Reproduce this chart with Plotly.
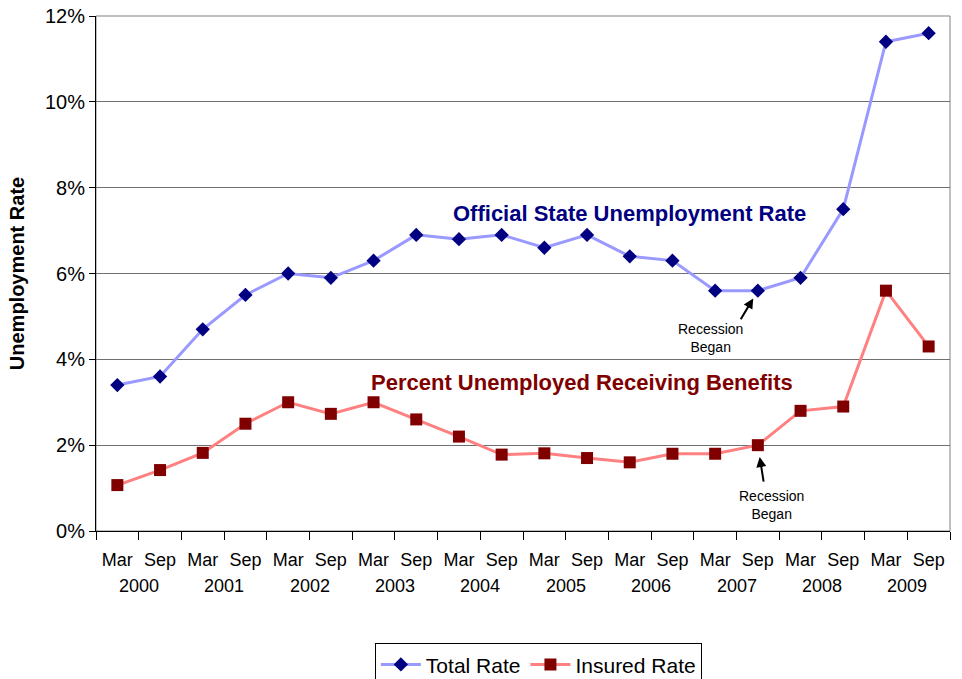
import plotly.graph_objects as go

# Semiannual observations, March 2000 through September 2009
months = ["Mar", "Sep"] * 10
years = ["2000", "2001", "2002", "2003", "2004", "2005", "2006", "2007", "2008", "2009"]

total_rate = [3.4, 3.6, 4.7, 5.5, 6.0, 5.9, 6.3, 6.9, 6.8, 6.9,
              6.6, 6.9, 6.4, 6.3, 5.6, 5.6, 5.9, 7.5, 11.4, 11.6]
insured_rate = [1.07, 1.42, 1.82, 2.5, 3.0, 2.73, 3.0, 2.6, 2.2, 1.78,
                1.81, 1.7, 1.6, 1.8, 1.8, 2.0, 2.8, 2.9, 5.6, 4.3]

y_ticks = [0, 2, 4, 6, 8, 10, 12]

FONT = "Arial, Liberation Sans, sans-serif"
x = list(range(len(months)))

fig = go.Figure()
fig.add_trace(go.Scatter(
    x=x, y=total_rate, name="Total Rate", mode="lines+markers",
    line=dict(color="#9999FF", width=3),
    marker=dict(symbol="diamond", size=11, color="#000080"),
))
fig.add_trace(go.Scatter(
    x=x, y=insured_rate, name="Insured Rate", mode="lines+markers",
    line=dict(color="#FF8080", width=3),
    marker=dict(symbol="square", size=12, color="#800000"),
))

annotations = []
# Year labels centred under each Mar/Sep pair
for i, yr in enumerate(years):
    annotations.append(dict(
        x=2 * i + 0.5, y=-0.107, xref="x", yref="paper", text=yr,
        showarrow=False, font=dict(family=FONT, size=18, color="black"),
        yanchor="middle",
    ))

# Series captions
annotations.append(dict(
    x=12.0, y=7.39, xref="x", yref="y", text="<b>Official State Unemployment Rate</b>",
    showarrow=False, font=dict(family=FONT, size=22, color="#000080"),
))
annotations.append(dict(
    x=10.87, y=3.45, xref="x", yref="y", text="<b>Percent Unemployed Receiving Benefits</b>",
    showarrow=False, font=dict(family=FONT, size=22, color="#800000"),
))

# Recession markers: arrows to Sep 2007 plus their captions
rec_idx = 15
annotations.append(dict(
    x=rec_idx, y=total_rate[rec_idx], xref="x", yref="y", text="",
    showarrow=True, ax=-18, ay=30, arrowhead=2, arrowsize=1, arrowwidth=2,
    arrowcolor="black", standoff=9,
))
annotations.append(dict(
    x=13.9, y=4.5, xref="x", yref="y", text="Recession<br>Began",
    showarrow=False, font=dict(family=FONT, size=14, color="black"),
))
annotations.append(dict(
    x=rec_idx, y=insured_rate[rec_idx], xref="x", yref="y", text="",
    showarrow=True, ax=6, ay=38, arrowhead=2, arrowsize=1, arrowwidth=2,
    arrowcolor="black", standoff=12,
))
annotations.append(dict(
    x=15.31, y=0.61, xref="x", yref="y", text="Recession<br>Began",
    showarrow=False, font=dict(family=FONT, size=14, color="black"),
))

fig.update_layout(
    width=962, height=679,
    margin=dict(l=96, r=12, t=16, b=148, autoexpand=False),
    paper_bgcolor="white", plot_bgcolor="white",
    font=dict(family=FONT, size=18, color="black"),
    showlegend=True,
    legend=dict(
        orientation="h", x=0.518, xanchor="center", y=-0.218, yanchor="top",
        bordercolor="black", borderwidth=1, font=dict(family=FONT, size=21),
        itemwidth=40, tracegroupgap=0,
    ),
    annotations=annotations,
    shapes=[dict(type="rect", xref="paper", yref="paper", x0=0, x1=1, y0=0, y1=1,
                 line=dict(color="#808080", width=1), layer="below")],
)

fig.update_xaxes(
    range=[-0.5, len(months) - 0.5],
    tickvals=x, ticktext=months, ticks="",
    tickfont=dict(family=FONT, size=18, color="black"),
    showgrid=False, zeroline=False,
    showline=True, linecolor="black", linewidth=1,
    minor=dict(ticks="outside", tick0=-0.5, dtick=1, ticklen=8,
               tickcolor="black", tickwidth=1, showgrid=False),
    ticklabelstandoff=12,
)
fig.update_yaxes(
    range=[0, 12], tickvals=y_ticks, ticktext=[f"{v}%" for v in y_ticks],
    ticks="outside", ticklen=6, tickcolor="black",
    tickfont=dict(family=FONT, size=20, color="black"),
    showgrid=True, gridcolor="#707070", gridwidth=1, zeroline=False,
    showline=True, linecolor="black", linewidth=1,
    title=dict(text="<b>Unemployment Rate</b>", font=dict(family=FONT, size=20), standoff=14),
)

fig.write_html("out.html")
